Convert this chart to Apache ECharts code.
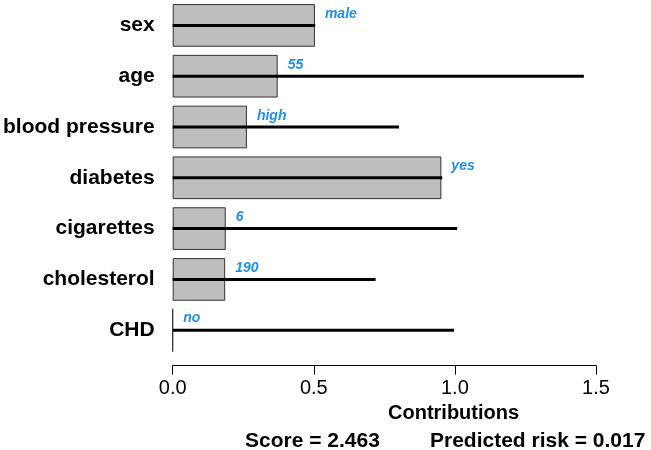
<!DOCTYPE html>
<html>
<head>
<meta charset="utf-8">
<script src="https://cdn.jsdelivr.net/npm/echarts@6/dist/echarts.min.js"></script>
<style>
  html, body { margin: 0; padding: 0; background: #fff; }
  #chart { width: 651px; height: 450px; }
</style>
</head>
<body>
<div id="chart"></div>
<script>
// 数据
var categories = ['sex', 'age', 'blood pressure', 'diabetes', 'cigarettes', 'cholesterol', 'CHD'];
var levels = ['male', '55', 'high', 'yes', '6', '190', 'no'];
var contributions = [0.504, 0.372, 0.263, 0.952, 0.188, 0.186, 0];
var ranges = [0.505, 1.457, 0.802, 0.955, 1.008, 0.719, 0.997];
var xTicks = [0, 0.5, 1.0, 1.5];
var score = '2.463';
var risk = '0.017';

var font = 'Liberation Sans, Arial, sans-serif';
var chart = echarts.init(document.getElementById('chart'));

var option = {
    animation: false,
    grid: { left: 172, right: 55, top: -2.6, height: 358.2 },
    xAxis: {
        type: 'value',
        min: xTicks[0],
        max: xTicks[xTicks.length - 1],
        interval: 0.5,
        offset: 10,
        splitLine: { show: false },
        axisLine: { show: true, lineStyle: { color: '#000', width: 1 } },
        axisTick: { show: true, length: 9, lineStyle: { color: '#000' } },
        axisLabel: {
            margin: 13, fontSize: 20, color: '#000', fontFamily: font,
            formatter: function (v) { return v.toFixed(1); }
        }
    },
    yAxis: {
        type: 'category',
        data: categories,
        inverse: true,
        axisLine: { show: false },
        axisTick: { show: false },
        axisLabel: { margin: 18, fontSize: 21, fontWeight: 'bold', color: '#000', fontFamily: font }
    },
    series: [
        {
            type: 'bar',
            data: contributions,
            barCategoryGap: '16%',
            itemStyle: { color: '#bebebe', borderColor: '#333', borderWidth: 1 },
            label: {
                show: true,
                position: ['100%', 0],
                offset: [10, 3],
                color: '#1e8fef',
                fontStyle: 'italic',
                fontWeight: 'bold',
                fontSize: 14,
                fontFamily: font,
                formatter: function (p) { return levels[p.dataIndex]; }
            },
            z: 2
        },
        {
            // 每个变量的范围线
            type: 'custom',
            data: ranges.map(function (v, i) { return [v, i]; }),
            renderItem: function (params, api) {
                var s = api.coord([0, api.value(1)]);
                var e = api.coord([api.value(0), api.value(1)]);
                return {
                    type: 'line',
                    shape: { x1: s[0], y1: s[1], x2: e[0], y2: e[1] },
                    style: { stroke: '#000', lineWidth: 3 }
                };
            },
            z: 3
        }
    ],
    graphic: [
        {
            type: 'text', left: 388, top: 403,
            style: { text: 'Contributions', fontSize: 20, fontWeight: 'bold', fill: '#000', fontFamily: font }
        },
        {
            type: 'text', left: 245, top: 431,
            style: { text: 'Score = ' + score, fontSize: 21, fontWeight: 'bold', fill: '#000', fontFamily: font }
        },
        {
            type: 'text', left: 430, top: 431,
            style: { text: 'Predicted risk = ' + risk, fontSize: 21, fontWeight: 'bold', fill: '#000', fontFamily: font }
        }
    ]
};

chart.setOption(option);
</script>
</body>
</html>
